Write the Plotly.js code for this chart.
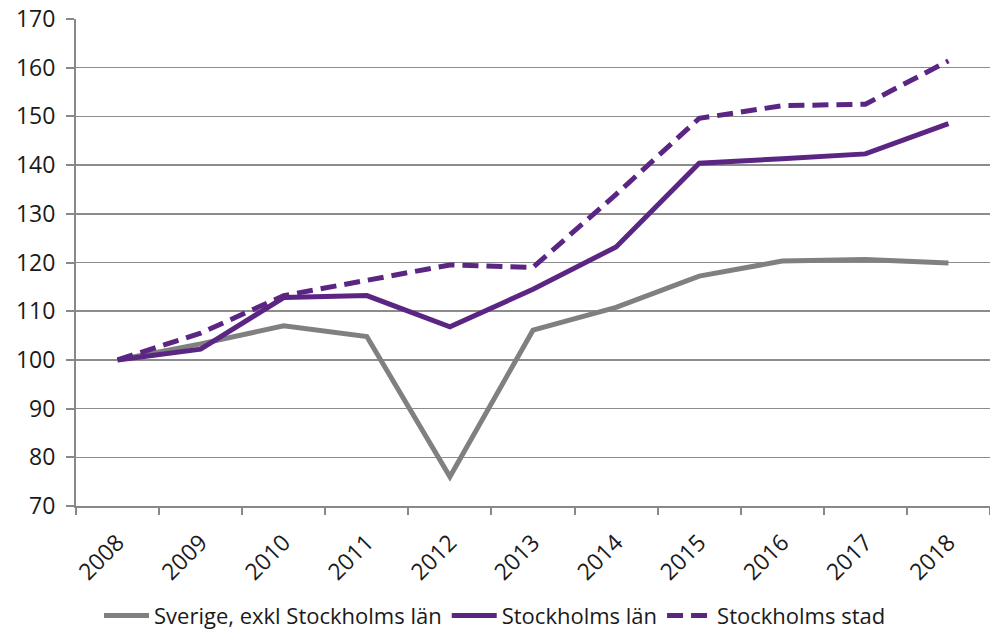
<!DOCTYPE html>
<html>
<head>
<meta charset="utf-8">
<script src="https://cdn.plot.ly/plotly-3.0.1.min.js"></script>
<style>html,body{margin:0;padding:0;background:#fff;}#chart{width:990px;height:636px;}</style>
</head>
<body>
<div id="chart"></div>
<script>
const years = ["2008","2009","2010","2011","2012","2013","2014","2015","2016","2017","2018"];
const sverigeExkl = [100, 103.3, 107.0, 104.8, 76.0, 106.1, 110.8, 117.2, 120.3, 120.6, 119.9];
const stockholmsLan = [100, 102.2, 112.8, 113.2, 106.8, 114.5, 123.2, 140.4, 141.3, 142.3, 148.5];
const stockholmsStad = [100, 105.5, 113.2, 116.4, 119.5, 119.0, 134.0, 149.6, 152.2, 152.5, 161.4];
const seriesNames = ["Sverige, exkl Stockholms län", "Stockholms län", "Stockholms stad"];
const yTicks = [70, 80, 90, 100, 110, 120, 130, 140, 150, 160, 170];

const purple = "#5b2583";
const grey = "#808080";
const fontFam = "Open Sans, Noto Sans, sans-serif";
const fs = 23;

const traces = [
  {x: years, y: sverigeExkl, name: seriesNames[0], type: "scatter", mode: "lines",
   line: {color: grey, width: 5}},
  {x: years, y: stockholmsLan, name: seriesNames[1], type: "scatter", mode: "lines",
   line: {color: purple, width: 5}},
  {x: years, y: stockholmsStad, name: seriesNames[2], type: "scatter", mode: "lines",
   line: {color: purple, width: 5, dash: "16px,8px"}}
];

const layout = {
  width: 990, height: 636,
  margin: {l: 76, r: 0, t: 19, b: 130, autoexpand: false},
  paper_bgcolor: "#fff", plot_bgcolor: "#fff",
  font: {family: fontFam, size: fs, color: "#1a1a1a"},
  showlegend: true,
  legend: {orientation: "h", x: 0.5, xref: "container", xanchor: "center",
           y: 0.032, yref: "container", yanchor: "middle", itemwidth: 45,
           font: {family: fontFam, size: 22, color: "#1a1a1a"}, tracegroupgap: 0},
  xaxis: {
    type: "category", range: [-0.5, 10.5], automargin: false,
    tickangle: -45, tickson: "boundaries",
    ticks: "outside", ticklen: 7, tickwidth: 2, tickcolor: "#888",
    ticklabelstandoff: 12,
    showline: true, linecolor: "#888", linewidth: 2,
    showgrid: false, zeroline: false,
    tickfont: {family: fontFam, size: fs, color: "#1a1a1a"}
  },
  yaxis: {
    range: [70, 170], tickvals: yTicks, ticktext: yTicks.map(String), automargin: false,
    ticks: "outside", ticklen: 8, tickwidth: 2, tickcolor: "#888",
    ticklabelstandoff: 6,
    showline: true, linecolor: "#888", linewidth: 2,
    showgrid: true, gridcolor: "#8c8c8c", gridwidth: 1.5, zeroline: false,
    tickfont: {family: fontFam, size: fs, color: "#1a1a1a"}
  }
};

Plotly.newPlot("chart", traces, layout, {displayModeBar: false, staticPlot: true});
</script>
</body>
</html>
